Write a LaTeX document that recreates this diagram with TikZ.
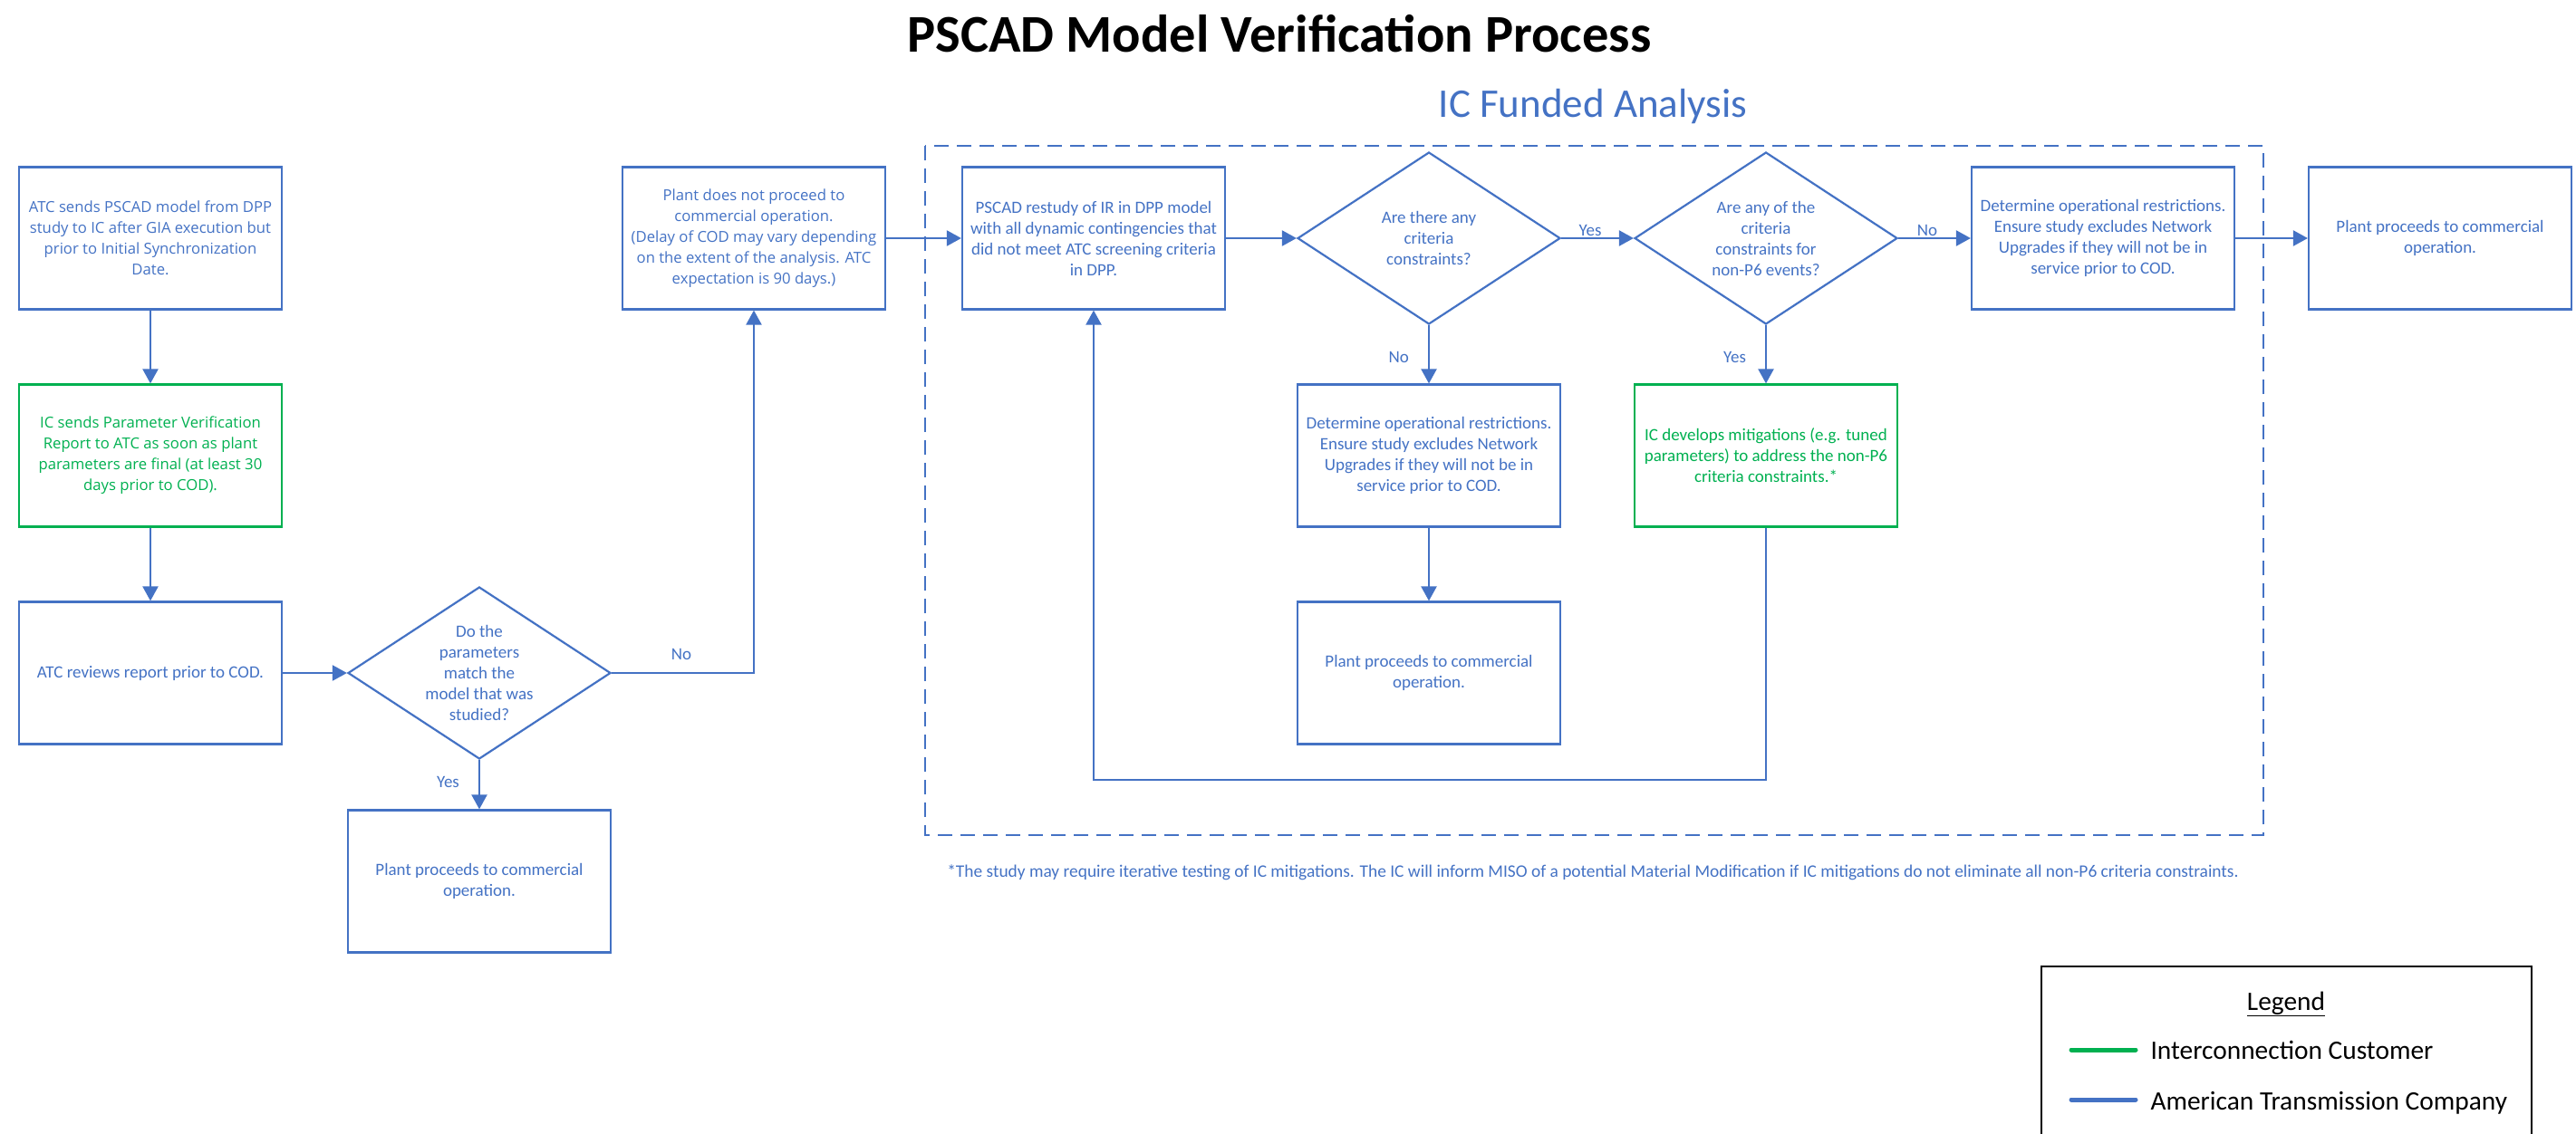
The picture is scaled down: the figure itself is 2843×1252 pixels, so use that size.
\documentclass[tikz,border=0pt]{standalone}
\usepackage{fontspec}
\setmainfont{Carlito}
\newfontfamily\wideface{Open Sans}
\usetikzlibrary{arrows.meta,shapes.geometric}
\definecolor{atcblue}{HTML}{4472C4}
\definecolor{icgreen}{HTML}{00B050}
\newcommand{\boxfont}{\fontsize{19}{23}\selectfont}
\newcommand{\widefont}{\wideface\fontsize{16.7}{23}\selectfont}

\begin{document}
\begin{tikzpicture}[x=1pt, y=-1pt,
        block/.style={rectangle, draw=atcblue, line width=2.2pt, text=atcblue, align=center,
            minimum width=290pt, minimum height=157pt, inner sep=2pt, font=\boxfont},
        wideblock/.style={block, font=\widefont},
        icblock/.style={block, draw=icgreen, text=icgreen},
        decision/.style={diamond, draw=atcblue, line width=2.2pt, text=atcblue, align=center,
            minimum width=290pt, minimum height=190pt, inner sep=-30pt, font=\boxfont},
        flow/.style={-{Triangle[length=16pt, width=17pt]}, draw=atcblue, line width=2.2pt},
        answer/.style={text=atcblue, font=\boxfont, inner sep=1pt},
        ]
        \useasboundingbox (0,0) rectangle (2843,1252);

        % headings
        \node (title) at (1412,58) [anchor=base, font=\fontsize{58.5}{62}\selectfont\bfseries] {PSCAD Model Verification Process};
        \node (funded) at (1758,130) [anchor=base, text=atcblue, font=\fontsize{45}{48}\selectfont] {IC Funded Analysis};
        \draw[atcblue, line width=2.2pt, dash pattern=on 16pt off 9pt] (1021,161) rectangle (2498,922);

        % left column
        \node (sendmodel) at (166,263) [wideblock] {ATC sends PSCAD model from DPP\\study to IC after GIA execution but\\prior to Initial Synchronization\\Date.};
        \node (sendreport) at (166,503) [icblock, font=\widefont] {IC sends Parameter Verification\\Report to ATC as soon as plant\\parameters are final (at least 30\\days prior to COD).};
        \node (review) at (166,743) [block] {ATC reviews report prior to COD.};
        \node (match) at (529,743) [decision] {Do the\\parameters\\match the\\model that was\\studied?};
        \node (proceedA) at (529,973) [block] {Plant proceeds to commercial\\operation.};
        \node (halt) at (832,263) [wideblock] {Plant does not proceed to\\commercial operation.\\(Delay of COD may vary depending\\on the extent of the analysis. ATC\\expectation is 90 days.)};

        % IC funded analysis
        \node (restudy) at (1207,263) [block] {PSCAD restudy of IR in DPP model\\with all dynamic contingencies that\\did not meet ATC screening criteria\\in DPP.};
        \node (anyc) at (1577,263) [decision] {Are there any\\criteria\\constraints?};
        \node (nonpsix) at (1949,263) [decision] {Are any of the\\criteria\\constraints for\\non-P6 events?};
        \node (restrictA) at (1577,503) [block] {Determine operational restrictions.\\Ensure study excludes Network\\Upgrades if they will not be in\\service prior to COD.};
        \node (mitigate) at (1949,503) [icblock] {IC develops mitigations (e.g. tuned\\parameters) to address the non-P6\\criteria constraints.*};
        \node (proceedB) at (1577,743) [block] {Plant proceeds to commercial\\operation.};
        \node (restrictB) at (2321,263) [block] {Determine operational restrictions.\\Ensure study excludes Network\\Upgrades if they will not be in\\service prior to COD.};
        \node (proceedC) at (2693,263) [block] {Plant proceeds to commercial\\operation.};
        \coordinate (loop) at (1949,861);

        \node (note) at (1758,968) [anchor=base, text=atcblue, font=\fontsize{19.4}{22}\selectfont] {*The study may require iterative testing of IC mitigations. The IC will inform MISO of a potential Material Modification if IC mitigations do not eliminate all non-P6 criteria constraints.};

        % connectors
        \draw[flow] (sendmodel) -- (sendreport);
        \draw[flow] (sendreport) -- (review);
        \draw[flow] (review) -- (match);
        \draw[flow] (match) -- node[answer, left=20pt, pos=0.45] {Yes} (proceedA);
        \draw[flow] (match.east) -| node[answer, above=12pt, pos=0.5, xshift=-80pt] {No} (halt.south);
        \draw[flow] (halt) -- (restudy);
        \draw[flow] (restudy) -- (anyc);
        \draw[flow] (anyc) -- node[answer, above, pos=0.4] {Yes} (nonpsix);
        \draw[flow] (anyc) -- node[answer, left=20pt, pos=0.55] {No} (restrictA);
        \draw[flow] (nonpsix) -- node[answer, above, pos=0.4] {No} (restrictB);
        \draw[flow] (nonpsix) -- node[answer, left=20pt, pos=0.55] {Yes} (mitigate);
        \draw[flow] (restrictA) -- (proceedB);
        \draw[flow] (restrictB) -- (proceedC);
        \draw[flow] (mitigate) -- (loop) -| (restudy.south);

        % legend
        \draw[black, line width=2pt] (2253,1067) rectangle (2794,1275);
        \node (legendtitle) at (2523,1115) [anchor=base, font=\fontsize{29.4}{31}\selectfont] {\underline{Legend}};
        \draw[icgreen, line width=5pt, line cap=round] (2286,1159) -- (2357,1159);
        \node (iclegend) at (2370,1169) [anchor=base west, font=\fontsize{29.4}{31}\selectfont] {Interconnection Customer};
        \draw[atcblue, line width=5pt, line cap=round] (2286,1214) -- (2357,1214);
        \node (atclegend) at (2370,1225) [anchor=base west, font=\fontsize{29.4}{31}\selectfont] {American Transmission Company};
    \end{tikzpicture}
\end{document}
